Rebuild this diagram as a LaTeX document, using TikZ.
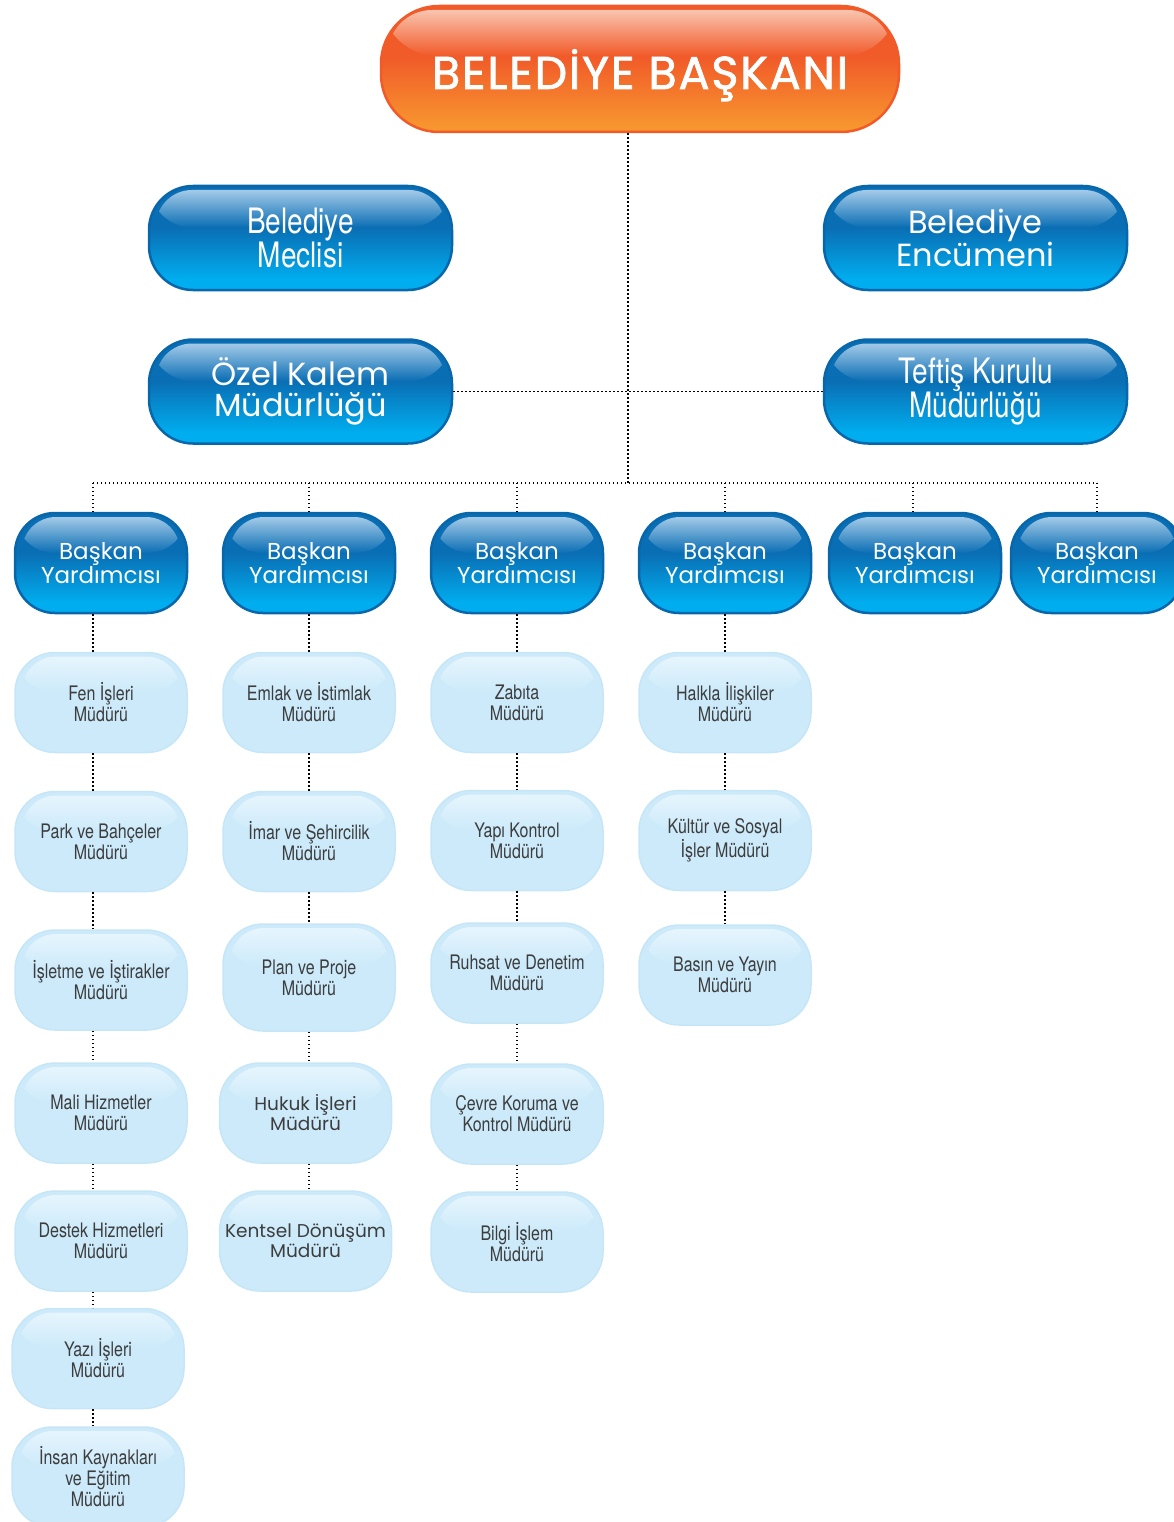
\documentclass[tikz,border=0pt]{standalone}
\usepackage{fontspec}
\setmainfont{Poppins}
\newfontfamily\headfont[FakeBold=1.6,LetterSpace=4]{Poppins}
\newfontfamily\condfont[FakeStretch=0.8]{TeX Gyre Heros}
\usetikzlibrary{positioning,calc}

\definecolor{orangeRim}{HTML}{F15A29}
\definecolor{orangeBase}{HTML}{F15A29}
\definecolor{orangeBot}{HTML}{F7962F}
\definecolor{orangeHi}{HTML}{F9C4AF}
\definecolor{blueRim}{HTML}{0866AA}
\definecolor{blueBase}{HTML}{0A6EB4}
\definecolor{blueBot}{HTML}{00AEEF}
\definecolor{blueHi}{HTML}{A3CAE8}
\definecolor{lightRim}{HTML}{C6E6F8}
\definecolor{lightFill}{HTML}{CCEAFA}
\definecolor{lightHi}{HTML}{E6F5FD}
\definecolor{textGray}{HTML}{3D3D3D}

% base shadings: flat in the upper 40%, gradient below
\pgfdeclareverticalshading{orangemain}{100bp}{color(0bp)=(orangeBot); color(27bp)=(orangeBot);
  color(55bp)=(orangeBase); color(100bp)=(orangeBase)}
\pgfdeclareverticalshading{bluemain}{100bp}{color(0bp)=(blueBot); color(30bp)=(blueBot);
  color(55bp)=(blueBase); color(100bp)=(blueBase)}

\tikzset{
  link/.style={draw=black, line width=1.3pt, dash pattern=on 1.3pt off 2.7pt},
  gloss/.style n args={3}{path picture={%
    \begin{scope}
      \clip (path picture bounding box.north west) rectangle
        ($(path picture bounding box.north east)!0.4!(path picture bounding box.south east)$);
      \shade[rounded corners=#3, top color=#1, bottom color=#2, middle color=#2]
        ([shift={(7pt,-4pt)}]path picture bounding box.north west) rectangle
        ($(path picture bounding box.north east)!0.76!(path picture bounding box.south east)+(-7pt,0)$);
    \end{scope}}},
  box/.style={inner sep=0pt, align=center, minimum width=172pt, minimum height=100pt},
  mayorbox/.style={box, minimum width=518pt, minimum height=126pt, rounded corners=58pt,
    draw=orangeRim, line width=2.5pt, shade, shading=orangemain,
    gloss={orangeHi}{orangeBase}{44pt}, text=white, text height=40pt, text depth=0pt,
    font=\headfont\fontsize{46}{48}\selectfont},
  bluebox/.style={box, draw=blueRim, line width=2.5pt, shade, shading=bluemain, text=white},
  bigbox/.style={bluebox, minimum width=303pt, minimum height=104pt, rounded corners=44pt,
    gloss={blueHi}{blueBase}{36pt}},
  bigcond/.style={bigbox, font=\condfont\fontsize{35}{31}\selectfont},
  biggeo/.style={bigbox, font=\fontsize{32}{31}\selectfont},
  yardbox/.style={bluebox, rounded corners=40pt, gloss={blueHi}{blueBase}{34pt},
    font=\fontsize{23}{24}\selectfont},
  lightbox/.style={box, rounded corners=40pt, draw=lightRim, line width=1.5pt, fill=lightFill,
    gloss={lightHi}{lightFill}{34pt}, text=textGray, font=\condfont\fontsize{20}{21}\selectfont},
  lightgeo/.style={lightbox, font=\fontsize{18.5}{20}\selectfont},
}

\begin{document}
\begin{tikzpicture}[x=1pt,y=-1pt]
  \useasboundingbox (0,0) rectangle (1173,1522);

  % top level
  \node[mayorbox] (mayor) at (640,69) {BELEDİYE BAŞKANI};
  \node[bigcond] (meclis) at (300.5,238) {Belediye\\Meclisi};
  \node[biggeo] (encumen) at (975.5,238) {Belediye\\Encümeni};
  \node[biggeo] (ozel) at (300.5,391.5) {Özel Kalem\\Müdürlüğü};
  \node[bigcond] (teftis) at (975.5,391.5) {Teftiş Kurulu\\Müdürlüğü};

  % deputies
  \node[yardbox] (by1) at (101,563) {Başkan\\Yardımcısı};
  \node[yardbox] (by2) at (309,563) {Başkan\\Yardımcısı};
  \node[yardbox] (by3) at (517,563) {Başkan\\Yardımcısı};
  \node[yardbox] (by4) at (725,563) {Başkan\\Yardımcısı};
  \node[yardbox] (by5) at (915,563) {Başkan\\Yardımcısı};
  \node[yardbox] (by6) at (1097,563) {Başkan\\Yardımcısı};

  % column 1
  \node[lightbox] (fen) at (101,702.5) {Fen İşleri\\Müdürü};
  \node[lightbox] (park) at (101,841.5) {Park ve Bahçeler\\Müdürü};
  \node[lightbox] (isletme) at (101,980) {İşletme ve İştirakler\\Müdürü};
  \node[lightbox] (mali) at (101,1113) {Mali Hizmetler\\Müdürü};
  \node[lightbox] (destek) at (101,1241) {Destek Hizmetleri\\Müdürü};
  \node[lightbox] (yazi) at (98,1358.5) {Yazı İşleri\\Müdürü};
  \node[lightbox] (insan) at (98,1477) {İnsan Kaynakları\\ve Eğitim\\Müdürü};

  % column 2
  \node[lightbox] (emlak) at (309,702.5) {Emlak ve İstimlak\\Müdürü};
  \node[lightbox] (imar) at (309,841.5) {İmar ve Şehircilik\\Müdürü};
  \node[lightbox, minimum height=107pt] (plan) at (309,977.5) {Plan ve Proje\\Müdürü};
  \node[lightgeo] (hukuk) at (305.5,1113) {Hukuk İşleri\\Müdürü};
  \node[lightgeo] (kentsel) at (305.5,1241) {Kentsel Dönüşüm\\Müdürü};

  % column 3
  \node[lightbox] (zabita) at (517,702.5) {Zabıta\\Müdürü};
  \node[lightbox] (yapi) at (517,840.5) {Yapı Kontrol\\Müdürü};
  \node[lightbox] (ruhsat) at (517,973) {Ruhsat ve Denetim\\Müdürü};
  \node[lightbox] (cevre) at (517,1114) {Çevre Koruma ve\\Kontrol Müdürü};
  \node[lightbox] (bilgi) at (517,1242) {Bilgi İşlem\\Müdürü};

  % column 4
  \node[lightbox] (halkla) at (725,702.5) {Halkla İlişkiler\\Müdürü};
  \node[lightbox] (kultur) at (725,840.5) {Kültür ve Sosyal\\İşler Müdürü};
  \node[lightbox] (basin) at (725,975) {Basın ve Yayın\\Müdürü};

  % connectors
  \coordinate (trunk) at (628,483);
  \coordinate (c1) at (93,483);
  \coordinate (c2) at (309,483);
  \coordinate (c3) at (517,483);
  \coordinate (c4) at (725,483);
  \coordinate (c5) at (913,483);
  \coordinate (c6) at (1097,483);

  \draw[link] (trunk |- mayor.south) -- (trunk);
  \draw[link] (ozel.east) -- (teftis.west);
  \draw[link] (c1) -- (c6);
  \foreach \c/\b in {c1/by1,c2/by2,c3/by3,c4/by4,c5/by5,c6/by6}
    \draw[link] (\c) -- (\c |- \b.north);
  \foreach \c/\a/\b in {c1/by1/fen,c1/fen/park,c1/park/isletme,c1/isletme/mali,
      c1/mali/destek,c1/destek/yazi,c1/yazi/insan,
      c2/by2/emlak,c2/emlak/imar,c2/imar/plan,c2/plan/hukuk,c2/hukuk/kentsel,
      c3/by3/zabita,c3/zabita/yapi,c3/yapi/ruhsat,c3/ruhsat/cevre,c3/cevre/bilgi,
      c4/by4/halkla,c4/halkla/kultur,c4/kultur/basin}
    \draw[link] (\c |- \a.south) -- (\c |- \b.north);
\end{tikzpicture}
\end{document}
